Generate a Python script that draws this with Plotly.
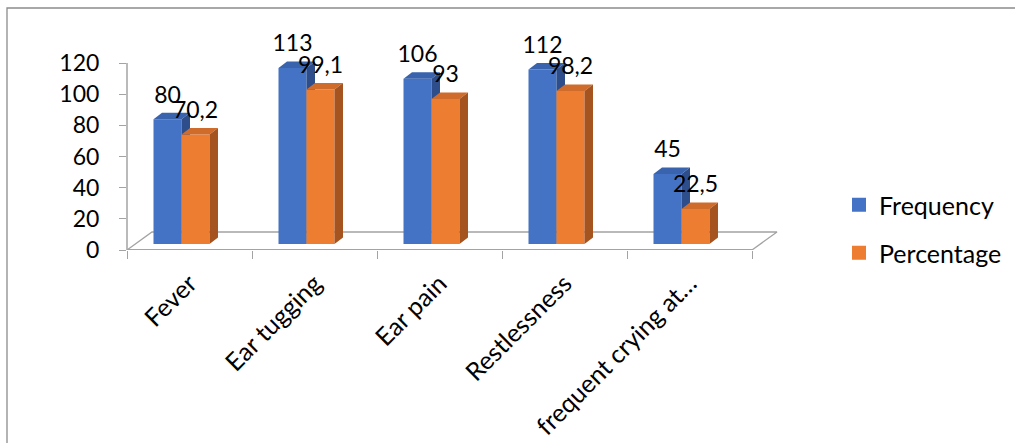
import plotly.graph_objects as go

# ---- data -------------------------------------------------------------
categories = ["Fever", "Ear tugging", "Ear pain", "Restlessness", "frequent crying at…"]
frequency = [80, 113, 106, 112, 45]
percentage = [70.2, 99.1, 93, 98.2, 22.5]
y_ticks = [0, 20, 40, 60, 80, 100, 120]

# ---- page / plot geometry (pixels) -----------------------------------
W, H = 1015, 443
ML, MR, MT, MB = 127, 232, 40, 193
PLOT_W = W - ML - MR
PLOT_H = H - MT - MB
PX_PER_CAT = 125.0               # horizontal pixels per category slot
PX_PER_Y = 187.0 / 120.0         # vertical pixels per value unit

X_RANGE = [-0.5, -0.5 + PLOT_W / PX_PER_CAT]
Y_RANGE = [0, PLOT_H / PX_PER_Y]


def ux(px):
    return px / PX_PER_CAT


def uy(px):
    return px / PX_PER_Y


def paper_x(px):
    return (px - ML) / PLOT_W


def paper_y(py):
    return (H - MB - py) / PLOT_H


# pseudo-3D parameters
FLOOR_DX, FLOOR_DY = ux(25), uy(18)   # depth of the floor
BASE = uy(6)                          # bars stand slightly back on the floor
BAR_DX, BAR_DY = ux(8.5), uy(6.5)     # depth of each bar
BAR_W = ux(28)
GRAY = "#A3A3A3"
FONT = "Lato, 'Open Sans', sans-serif"

series = [
    # name, values, front, top, side, left offset from category centre
    ("Frequency", frequency, "#4472C4", "#3A63AD", "#2D4E8A", ux(-36)),
    ("Percentage", percentage, "#ED7D31", "#D06C2B", "#A5531F", ux(-8)),
]

fig = go.Figure()

# floor of the 3D plot area
n = len(categories)
fx = [-0.5, n - 0.5, n - 0.5 + FLOOR_DX, -0.5 + FLOOR_DX, -0.5]
fy = [0, 0, FLOOR_DY, FLOOR_DY, 0]
fig.add_trace(go.Scatter(x=fx, y=fy, mode="lines", fill="toself",
                         fillcolor="white", line=dict(color=GRAY, width=1.3),
                         hoverinfo="skip", showlegend=False))
fig.add_trace(go.Scatter(x=[-0.5, n - 0.5], y=[0, 0], mode="lines",
                         line=dict(color=GRAY, width=2),
                         hoverinfo="skip", showlegend=False))


def faces(values, left):
    front_x, front_y, top_x, top_y, side_x, side_y = [], [], [], [], [], []
    for i, v in enumerate(values):
        x0 = i + left
        x1 = x0 + BAR_W
        b = BASE
        t = BASE + v
        front_x += [x0, x1, x1, x0, x0, None]
        front_y += [b, b, t, t, b, None]
        top_x += [x0, x1, x1 + BAR_DX, x0 + BAR_DX, x0, None]
        top_y += [t, t, t + BAR_DY, t + BAR_DY, t, None]
        side_x += [x1, x1 + BAR_DX, x1 + BAR_DX, x1, x1, None]
        side_y += [b, b + BAR_DY, t + BAR_DY, t, b, None]
    return (front_x, front_y), (top_x, top_y), (side_x, side_y)


legend_names = ["legend", "legend2"]
for k, (name, vals, c_front, c_top, c_side, left) in enumerate(series):
    for (xs, ys), col in zip(faces(vals, left), (c_front, c_top, c_side)):
        fig.add_trace(go.Scatter(x=xs, y=ys, mode="lines", fill="toself",
                                 fillcolor=col, line=dict(width=0, color=col),
                                 hoverinfo="skip", showlegend=False))
    # legend entry for the series
    fig.add_trace(go.Scatter(x=[None], y=[None], mode="markers", name=name,
                             marker=dict(symbol="square", size=14, color=c_front),
                             legend=legend_names[k]))

# value labels above each bar
for name, vals, c_front, c_top, c_side, left in series:
    fig.add_trace(go.Scatter(
        x=[i + left + BAR_W / 2 for i in range(n)],
        y=[BASE + v + BAR_DY + uy(4.5) for v in vals],
        text=[f"{v:g}".replace(".", ",") for v in vals],
        mode="text", textposition="top center",
        textfont=dict(family=FONT, size=23, color="#000000"),
        cliponaxis=False, hoverinfo="skip", showlegend=False))

fig.update_layout(
    width=W, height=H,
    margin=dict(l=ML, r=MR, t=MT, b=MB, pad=0, autoexpand=False),
    paper_bgcolor="white", plot_bgcolor="rgba(0,0,0,0)",
    font=dict(family=FONT, size=23, color="#000000"),
    xaxis=dict(range=X_RANGE, showgrid=False, zeroline=False, showline=False,
               tickmode="array", tickvals=list(range(n)), ticktext=categories,
               ticks="", tickangle=-45, ticklabelstandoff=13,
               tickfont=dict(family=FONT, size=25, color="#000000"),
               minor=dict(tickmode="array",
                          tickvals=[i - 0.5 for i in range(n + 1)],
                          ticks="outside", ticklen=8, tickwidth=1.3,
                          tickcolor=GRAY, showgrid=False),
               automargin=False, fixedrange=True),
    yaxis=dict(range=Y_RANGE, showgrid=False, zeroline=False, showline=False,
               tickmode="array", tickvals=y_ticks,
               ticktext=[str(t) for t in y_ticks],
               ticks="outside", ticklen=7, tickwidth=1.3, tickcolor=GRAY,
               ticklabelstandoff=15, automargin=False, fixedrange=True),
    legend=dict(x=paper_x(839), y=paper_y(205), xanchor="left", yanchor="middle",
                bgcolor="rgba(0,0,0,0)", font=dict(family=FONT, size=25)),
    legend2=dict(x=paper_x(839), y=paper_y(253), xanchor="left", yanchor="middle",
                 bgcolor="rgba(0,0,0,0)", font=dict(family=FONT, size=25)),
    shapes=[
        # vertical value axis
        dict(type="line", xref="paper", yref="y", x0=0, x1=0, y0=0, y1=max(y_ticks),
             line=dict(color=GRAY, width=1.5)),
        # chart-area outline
        dict(type="rect", xref="paper", yref="paper",
             x0=paper_x(7), x1=paper_x(W + 10), y0=paper_y(H + 10), y1=paper_y(8),
             line=dict(color="#8C8C8C", width=1.3), fillcolor="rgba(0,0,0,0)"),
    ],
)

fig.write_html("out.html")
